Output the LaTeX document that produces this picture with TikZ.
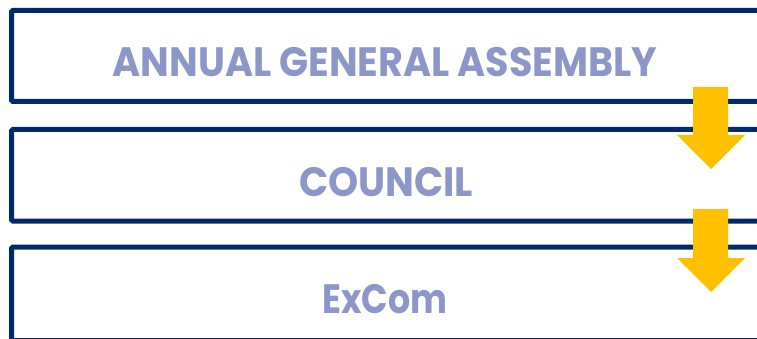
\documentclass[tikz,border=0pt]{standalone}
\usepackage{fontspec}
\setmainfont{Poppins}
\definecolor{navy}{HTML}{002A6A}
\definecolor{lbltext}{HTML}{8C96C8}
\definecolor{gold}{HTML}{FFC000}
\begin{document}
\begin{tikzpicture}[x=1pt,y=-1pt,
  boxst/.style={draw=navy,line width=5pt,rounded corners=1.5pt,anchor=north west,minimum width=780pt,inner sep=0pt,outer sep=0pt},
  lbl/.style={text=lbltext,font=\bfseries\fontsize{41}{45}\selectfont,inner sep=0pt},
  arr/.style={fill=gold,draw=none}]
\useasboundingbox (0,0) rectangle (757,339);
\node[boxst,minimum height=91pt] (agm) at (11.5,10.5) {};
\node[boxst,minimum height=91.5pt] (council) at (11.5,129.5) {};
\node[boxst,minimum height=93.5pt] (excom) at (11.5,247) {};
\node[lbl] (tagm) at (385,62.5) {\scalebox{0.93}[1]{ANNUAL GENERAL ASSEMBLY}};
\node[lbl] (tcouncil) at (386,182.5) {\scalebox{0.935}[1]{COUNCIL}};
\node[lbl] (texcom) at (385,299) {\scalebox{0.85}[1]{ExCom}};
\fill[arr] (693,87) -- (728,87) -- (728,135) -- (745,135) -- (711,169) -- (677,135) -- (693,135) -- cycle;
\fill[arr] (693,209) -- (728,209) -- (728,258) -- (745,258) -- (711,292) -- (677,258) -- (693,258) -- cycle;
\end{tikzpicture}
\end{document}
